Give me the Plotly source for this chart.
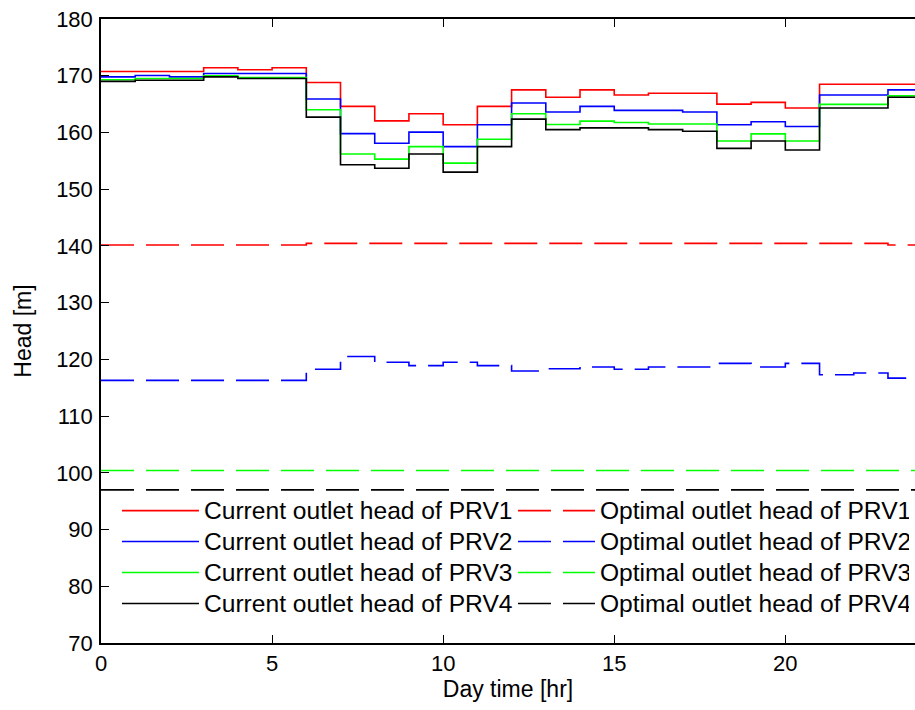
import plotly.graph_objects as go

# Hourly time steps (start of each hour) and the end of the day
hours = list(range(25))

# Current outlet heads [m], one value per hour (0..23)
current_prv1 = [170.75, 170.75, 170.75, 171.4, 171.05, 171.4, 168.8, 164.6, 162.05, 163.3, 161.35, 164.6,
                167.5, 166.2, 167.5, 166.6, 166.9, 166.9, 165.0, 165.3, 164.3, 168.5, 168.5, 168.5]
current_prv2 = [169.8, 170.05, 169.8, 170.4, 170.4, 170.4, 165.9, 159.8, 158.1, 160.05, 157.5, 161.35,
                165.2, 163.6, 164.6, 163.9, 163.9, 163.6, 161.35, 161.9, 161.05, 166.6, 166.6, 167.5]
current_prv3 = [169.3, 169.5, 169.5, 170.0, 169.7, 169.7, 164.0, 156.2, 155.3, 157.5, 154.6, 158.8,
                163.3, 161.4, 162.0, 161.75, 161.5, 161.5, 158.5, 159.75, 158.5, 164.95, 164.95, 166.45]
current_prv4 = [169.0, 169.2, 169.2, 169.8, 169.5, 169.5, 162.7, 154.3, 153.7, 156.2, 153.0, 157.5,
                162.35, 160.5, 160.8, 160.8, 160.5, 160.2, 157.2, 158.5, 156.9, 164.3, 164.3, 166.2]

# Optimal outlet heads [m]
optimal_prv1 = [140.15] * 6 + [140.45] * 17 + [140.15]
optimal_prv2 = [116.3, 116.3, 116.3, 116.3, 116.3, 116.3, 118.25, 120.5, 119.5, 118.9, 119.5, 118.9,
                117.95, 118.35, 118.65, 118.25, 118.65, 118.65, 119.3, 118.65, 119.3, 117.3, 117.6, 116.7]
optimal_prv3 = [100.4] * 24
optimal_prv4 = [97.0] * 24

series = [
    ("Current outlet head of PRV1", current_prv1, "#FF0000", "solid"),
    ("Optimal outlet head of PRV1", optimal_prv1, "#FF0000", "dash"),
    ("Current outlet head of PRV2", current_prv2, "#0000FF", "solid"),
    ("Optimal outlet head of PRV2", optimal_prv2, "#0000FF", "dash"),
    ("Current outlet head of PRV3", current_prv3, "#00FF00", "solid"),
    ("Optimal outlet head of PRV3", optimal_prv3, "#00FF00", "dash"),
    ("Current outlet head of PRV4", current_prv4, "#000000", "solid"),
    ("Optimal outlet head of PRV4", optimal_prv4, "#000000", "dash"),
]

FONT = "Liberation Sans, Arial, sans-serif"
ITEM_W = 77
COL_STEP = 396

fig = go.Figure()
for name, vals, color, style in series:
    fig.add_trace(go.Scatter(
        x=hours,
        y=list(vals) + [vals[-1]],
        mode="lines",
        line=dict(shape="hv", color=color, width=1.6,
                  dash="solid" if style == "solid" else "33px,12px"),
        name='<span style="font-size:24.6px">' + name + '</span>',
    ))

fig.update_layout(
    width=915, height=710,
    margin=dict(l=101, r=0, t=19, b=67, autoexpand=False),
    paper_bgcolor="white", plot_bgcolor="white",
    font=dict(family=FONT, color="black", size=22),
    showlegend=True,
    legend=dict(
        orientation="h",
        x=0.0196, xanchor="left",
        y=0.245, yanchor="top",
        entrywidth=COL_STEP - (ITEM_W + 10) - 5, entrywidthmode="pixels",
        font=dict(family=FONT, size=21.5, color="black"),
        bgcolor="rgba(255,255,255,0)",
        borderwidth=0,
        traceorder="normal",
        itemwidth=ITEM_W,
    ),
    xaxis=dict(
        range=[0, 23.79],
        tickvals=[0, 5, 10, 15, 20],
        showline=True, linecolor="black", linewidth=1.5,
        mirror="allticks", ticks="inside", ticklen=8, tickcolor="black",
        showgrid=False, zeroline=False, automargin=False,
        ticklabelstandoff=0, ticklabeloverflow="allow",
        title=dict(text="Day time [hr]", font=dict(size=23), standoff=6),
    ),
    yaxis=dict(
        range=[70, 180],
        tickvals=[70, 80, 90, 100, 110, 120, 130, 140, 150, 160, 170, 180],
        showline=True, linecolor="black", linewidth=1.5,
        ticks="inside", ticklen=8, tickcolor="black",
        showgrid=False, zeroline=False, automargin=False,
        ticklabelstandoff=2, ticklabeloverflow="allow",
        title=dict(text="Head [m]", font=dict(size=23), standoff=18),
    ),
)

# remove the browser's default 8px page margin so the 915x710 figure fills the window
fig.write_html(
    "out.html",
    config={"displayModeBar": False},
    post_script="document.body.style.margin='0';document.documentElement.style.overflow='hidden';",
)
